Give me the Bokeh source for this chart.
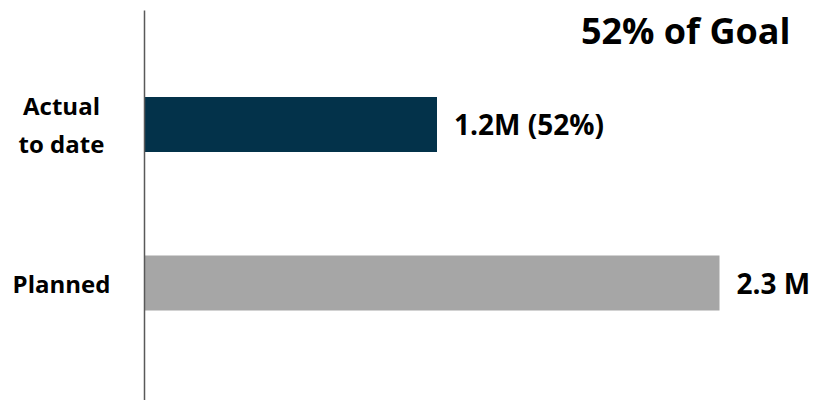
from bokeh.plotting import figure
from bokeh.models import Range1d, Label, ColumnDataSource
from bokeh.embed import file_html
from bokeh.resources import INLINE
from bokeh.core.properties import value

# ---- data ----
categories = ["Actual\nto date", "Planned"]
values = [1.17, 2.3]          # millions
value_labels = ["1.2M (52%)", "2.3 M"]
colors = ["#03324A", "#A6A6A6"]
title_text = "52% of Goal"
positions = [1, 0]

FONT = "Open Sans"

src = ColumnDataSource(dict(y=positions, v=values, c=colors,
                            cat=categories, lab=value_labels,
                            zero=[0] * len(values)))

Y0, Y1 = -0.741, 1.782
p = figure(width=818, height=400, output_backend="svg", toolbar_location=None,
           x_range=Range1d(-0.576, 2.696), y_range=Range1d(Y0, Y1),
           x_axis_location=None, y_axis_location=None, min_border=0)
p.outline_line_color = None
p.xgrid.visible = False
p.ygrid.visible = False
p.background_fill_color = "white"
p.border_fill_color = "white"

p.hbar(y="y", left="zero", right="v", height=0.347, color="c", line_color=None, source=src)

# vertical category axis line
p.segment(x0=[0], y0=[Y1 - 0.063], x1=[0], y1=[Y0], line_color="#595959", line_width=1.5)

# category labels (left of axis)
p.text(x=-0.332, y="y", text="cat", source=src, text_align="center", text_baseline="middle",
       text_font=value(FONT), text_font_style="bold", text_font_size="24px",
       text_color="#000000", text_line_height=1.15)

# value labels
p.text(x="v", y="y", text="lab", source=src, x_offset=17, text_align="left",
       text_baseline="middle", text_font=value(FONT), text_font_style="bold",
       text_font_size="28px", text_color="#000000")

p.add_layout(Label(x=790, y=400 - 30, x_units="screen", y_units="screen", text=title_text,
                   text_align="right", text_baseline="alphabetic",
                   text_font=FONT, text_font_style="bold", text_font_size="36px",
                   text_color="#000000"))

open("out.html", "w").write(file_html(p, INLINE))
